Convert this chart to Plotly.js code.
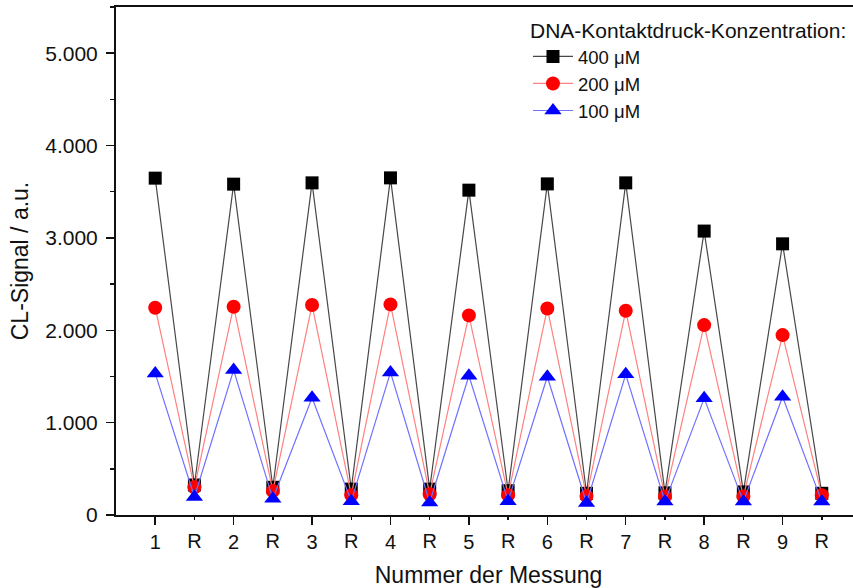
<!DOCTYPE html>
<html>
<head>
<meta charset="utf-8">
<script src="https://cdn.plot.ly/plotly-3.0.1.min.js"></script>
<style>
  html, body { margin: 0; padding: 0; overflow: hidden; background: #fff; }
  #chart { width: 880px; height: 588px; }
</style>
</head>
<body>
<div id="chart"></div>
<script>
// Measurement sequence: numbered measurements alternate with reference (R) readings
const tickLabels = ["1","R","2","R","3","R","4","R","5","R","6","R","7","R","8","R","9","R"];

// CL signal (a.u.) per DNA contact-print concentration
const signal400 = [3647, 325, 3582, 300, 3596, 280, 3650, 280, 3517, 263, 3585, 235, 3596, 240, 3074, 250, 2936, 235];
const signal200 = [2244, 300, 2255, 260, 2273, 215, 2280, 225, 2161, 215, 2236, 205, 2211, 200, 2056, 200, 1948, 215];
const signal100 = [1533, 195, 1569, 175, 1269, 150, 1544, 135, 1508, 150, 1497, 130, 1523, 145, 1263, 145, 1280, 145];

const seriesNames = ["400 μM", "200 μM", "100 μM"];

const idx = tickLabels.map((_, i) => i);
const numIdx = idx.filter(i => tickLabels[i] !== "R");
const refIdx = idx.filter(i => tickLabels[i] === "R");

const FONT = "Liberation Sans, Arial, sans-serif";

const traces = [
  {
    x: idx, y: signal400, name: seriesNames[0], mode: "lines+markers",
    line: { color: "rgba(40,40,40,0.85)", width: 1.2 },
    marker: { symbol: "square", size: 13, color: "#000" }
  },
  {
    x: idx, y: signal200, name: seriesNames[1], mode: "lines+markers",
    line: { color: "#ff8080", width: 1.2 },
    marker: { symbol: "circle", size: 14, color: "#ff0000" }
  },
  {
    x: idx, y: signal100, name: seriesNames[2], mode: "lines+markers",
    line: { color: "#7070ff", width: 1.2 },
    marker: { symbol: "triangle-up", size: 15, color: "#0000ff" }
  }
];

const layout = {
  width: 880, height: 588,
  margin: { l: 116, r: 19, t: 7, b: 73 },
  paper_bgcolor: "#fff", plot_bgcolor: "#fff",
  separators: ",.",
  font: { family: FONT, color: "#111", size: 20 },
  showlegend: true,
  legend: {
    x: 0.553, y: 0.993, xanchor: "left", yanchor: "top",
    bgcolor: "rgba(0,0,0,0)", borderwidth: 0,
    title: { text: "DNA-Kontaktdruck-Konzentration:", side: "top", font: { size: 21 } },
    font: { size: 18.5 }, tracegroupgap: 0, itemwidth: 40
  },
  xaxis: {
    range: [-1, 18], showgrid: false, zeroline: false,
    showline: true, linecolor: "#111", linewidth: 2, mirror: true,
    ticks: "outside", ticklen: 8, tickwidth: 1.5, tickcolor: "#111",
    tickmode: "array", tickvals: numIdx, ticktext: numIdx.map(i => tickLabels[i]),
    tickfont: { size: 20 },
    title: { text: "Nummer der Messung", font: { size: 23 }, standoff: 15 }
  },
  xaxis2: {
    overlaying: "x", anchor: "y", side: "bottom",
    range: [-1, 18], showgrid: false, zeroline: false, showline: false,
    ticks: "outside", ticklen: 4, tickwidth: 1.5, tickcolor: "#111",
    tickmode: "array", tickvals: refIdx, ticktext: refIdx.map(i => tickLabels[i]),
    tickfont: { size: 20 }, ticklabelstandoff: 4
  },
  yaxis: {
    range: [0, 5500], showgrid: false, zeroline: false,
    showline: true, linecolor: "#111", linewidth: 2, mirror: true,
    ticks: "outside", ticklen: 8, tickwidth: 1.5, tickcolor: "#111",
    tick0: 0, dtick: 1000, tickformat: ",d",
    tickfont: { size: 21 }, ticklabelstandoff: 4,
    minor: { ticks: "outside", ticklen: 4, tickwidth: 1.5, tickcolor: "#111", dtick: 500, showgrid: false },
    title: { text: "CL-Signal / a.u.", font: { size: 23 }, standoff: 10 }
  }
};

// Invisible trace on the overlay axis so the R tick labels are rendered
const refAxisTrace = {
  x: refIdx, y: refIdx.map(() => null), xaxis: "x2", yaxis: "y",
  mode: "markers", showlegend: false, hoverinfo: "skip"
};

Plotly.newPlot("chart", [refAxisTrace, ...traces], layout, { displayModeBar: false, staticPlot: true });
</script>
</body>
</html>
